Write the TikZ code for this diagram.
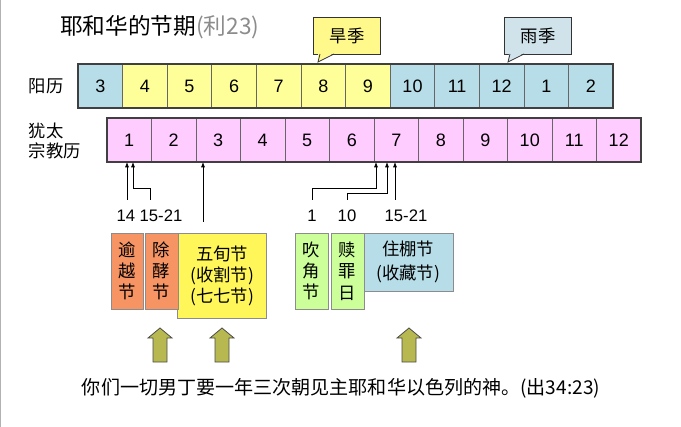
\documentclass[tikz,border=0pt]{standalone}
\usepackage{fontspec}
\setmainfont{Liberation Sans}
\newfontfamily\cjk{Noto Sans CJK SC}
\begin{document}
\begin{tikzpicture}[x=0.75pt,y=-0.75pt,
  cell/.style={draw=black!60,line width=0.6pt,minimum width=44.5*0.75pt,minimum height=44*0.75pt,inner sep=0,font=\fontsize{13.5}{15}\selectfont},
  fest/.style={draw=black!45,line width=0.8pt,anchor=north west,inner sep=0},
  lbl/.style={font=\cjk\fontsize{13}{15}\selectfont},
  num/.style={font=\fontsize{12.5}{14}\selectfont},
  sm/.style={-{Latex[length=4pt,width=3pt]},line width=0.5pt},
  big/.style={draw=black!70,fill=olivearrow,line width=0.6pt}]
\usetikzlibrary{arrows.meta}
\definecolor{olivearrow}{HTML}{B8B850}
\useasboundingbox (0,0) rectangle (681,427);
\fill[white] (0,0) rectangle (681,427);
\draw[black!30] (0.5,0) -- (0.5,427);
% title
\node[anchor=west,inner sep=0] (title) at (60,27) {\cjk\fontsize{17}{19}\selectfont 耶和华的节期\textcolor{black!45}{(利23)}};
% callouts
\node[fest,fill=yellow!45,draw=black!80,minimum width=67*0.75pt,minimum height=37*0.75pt] (dry) at (313,17) {};
\node[lbl] at (dry.center) {旱季};
\fill[yellow!45] (318,53) -- (318,62) -- (334,53) -- cycle;
\draw[black!80,line width=0.6pt] (320,54) -- (318,62) -- (334,54);
\node[fest,fill=cyan!15!teal!20,draw=black!80,minimum width=67*0.75pt,minimum height=37*0.75pt] (wet) at (504,17) {};
\node[lbl] at (wet.center) {雨季};
\fill[cyan!15!teal!20] (509,53) -- (508,62) -- (524,53) -- cycle;
\draw[black!80,line width=0.6pt] (510,54) -- (508,62) -- (524,54);
% row labels
\node[lbl,anchor=west] (yl) at (24,86) {阳历};
\node[lbl,anchor=west,align=left] (jl) at (24,141) {犹太\\宗教历};
% row 1
\definecolor{rb}{HTML}{B7DEE8}
\definecolor{ry}{HTML}{FFFF99}
\definecolor{rp}{HTML}{FFCCFF}
\foreach \m [count=\i] in {3,4,5,6,7,8,9,10,11,12,1,2}{
  \pgfmathsetmacro\cx{78+44.6*(\i-0.5)}
  \ifnum\i>1 \ifnum\i<8 \def\cc{ry}\else\def\cc{rb}\fi\else\def\cc{rb}\fi
  \node[cell,fill=\cc] (g\i) at (\cx,86) {\m};
}
\draw[black!75,line width=1.5pt] (78,64) rectangle (613,108);
% row 2
\foreach \m [count=\i] in {1,...,12}{
  \pgfmathsetmacro\cx{107+44.5*(\i-0.5)}
  \node[cell,fill=rp] (h\i) at (\cx,140) {\m};
}
\draw[black!75,line width=1.5pt] (107,118) rectangle (641,162);
% small arrows
\coordinate (a1) at (127,162); \coordinate (a2) at (133,162); \coordinate (a3) at (203,162);
\coordinate (a4) at (376,162); \coordinate (a5) at (387,162); \coordinate (a6) at (395,162);
\draw[sm] (127,200) -- (a1);
\draw[sm] (150,200) -- (150,188) -- (133,188) -- (a2);
\draw[sm] (203,222) -- (a3);
\draw[sm] (312,200) -- (312,188) -- (376,188) -- (a4);
\draw[sm] (347,200) -- (347,193) -- (387,193) -- (a5);
\draw[sm] (395,200) -- (a6);
\node[num] (n1) at (126,216) {14};
\node[num] (n2) at (161,216) {15-21};
\node[num] (n3) at (312,216) {1};
\node[num] (n4) at (347,216) {10};
\node[num] (n5) at (406,216) {15-21};
% festival boxes
\definecolor{fo}{HTML}{F79464}
\definecolor{fg}{HTML}{CCFF99}
\node[fest,fill=yellow!65,minimum width=89*0.75pt,minimum height=85*0.75pt] (pent) at (177,233) {};
\node[lbl,align=center] at (222,276) {五旬节\\[1pt](收割节)\\[1pt](七七节)};
\node[fest,fill=fo,minimum width=32*0.75pt,minimum height=76*0.75pt] (pass) at (111,233) {};
\node[lbl,align=center] at (127,271) {逾\\[1pt]越\\[1pt]节};
\node[fest,fill=fo,minimum width=33*0.75pt,minimum height=76*0.75pt] (unl) at (145,233) {};
\node[lbl,align=center] at (161.5,271) {除\\[1pt]酵\\[1pt]节};
\node[fest,fill=fg,minimum width=33*0.75pt,minimum height=76*0.75pt] (trum) at (295,233) {};
\node[lbl,align=center] at (311.5,271) {吹\\[1pt]角\\[1pt]节};
\node[fest,fill=fg,minimum width=33*0.75pt,minimum height=76*0.75pt] (atone) at (331,233) {};
\node[lbl,align=center] at (347.5,271) {赎\\[1pt]罪\\[1pt]日};
\node[fest,fill=rb,minimum width=89*0.75pt,minimum height=58*0.75pt] (tab) at (364,233) {};
\node[lbl,align=center] at (408,262) {住棚节\\[3pt](收藏节)};
% big arrows
\foreach \x in {160,222,409}{
  \draw[big] (\x-7,362) -- (\x-7,338) -- (\x-12,338) -- (\x,328) -- (\x+12,338) -- (\x+7,338) -- (\x+7,362) -- cycle;
}
\node[lbl,font=\cjk\fontsize{14.3}{16}\selectfont] (verse) at (341,388) {你们一切男丁要一年三次朝见主耶和华以色列的神。(出34:23)};
\end{tikzpicture}
\end{document}
